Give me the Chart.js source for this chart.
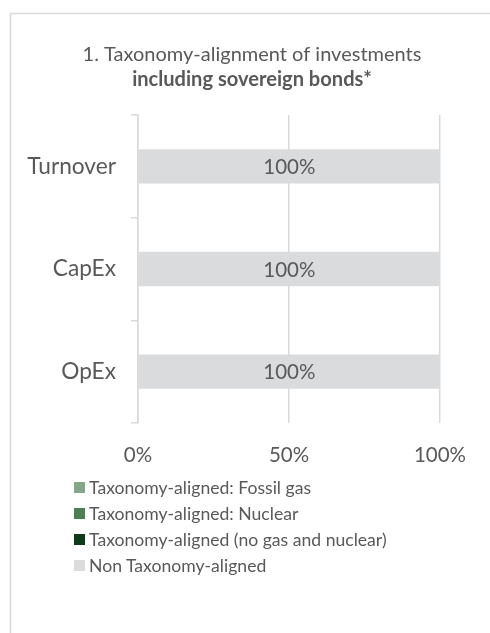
<!DOCTYPE html>
<html><head><meta charset="utf-8">
<script src="https://cdn.jsdelivr.net/npm/chart.js@4"></script>
<style>
html,body{margin:0;padding:0;background:#fff;}
#wrap{position:relative;width:490px;height:633px;overflow:hidden;}
.li{position:absolute;left:74px;height:20px;display:flex;align-items:center;white-space:nowrap;color:#595959;}
.li .bx{display:inline-block;width:11px;height:11px;margin-right:4px;flex:none;}
</style></head><body>
<div id="wrap"><canvas id="c" width="490" height="633"></canvas><div id="legend"></div></div>
<script>
// ---- data ----
const categories = ['Turnover', 'CapEx', 'OpEx'];
const seriesNames = [
  'Taxonomy-aligned: Fossil gas',
  'Taxonomy-aligned: Nuclear',
  'Taxonomy-aligned (no gas and nuclear)',
  'Non Taxonomy-aligned'
];
const fossilGas = [0, 0, 0];
const nuclear = [0, 0, 0];
const alignedOther = [0, 0, 0];
const nonAligned = [100, 100, 100];
const xTickValues = [0, 50, 100];
const titleLine1 = '1. Taxonomy-alignment of investments';
const titleLine2 = 'including sovereign bonds*';

// ---- styles ----
const seriesColors = ['#86A68A', '#4E7D57', '#103A1A', '#DADBDD'];
const FAMILY = 'Lato, "Open Sans", sans-serif';
const TEXT = '#595959';
const GRID = '#D9D9D9';

function fit(text, weight, target) {
  const c = document.createElement('canvas').getContext('2d');
  c.font = weight + ' 100px ' + FAMILY;
  return Math.round(1000 * target / c.measureText(text).width) / 10;
}
const sTick = fit('100%', 'normal', 52);
const sCat = fit('Turnover', 'normal', 89);
const sTitle = fit(titleLine1, 'normal', 339);
const sSub = fit(titleLine2, 'bold', 240);
const sLeg = fit(seriesNames[2], 'normal', 297);

const seriesData = [fossilGas, nuclear, alignedOther, nonAligned];

const framePlugin = {
  id: 'frame',
  beforeDraw(chart) {
    const ctx = chart.ctx;
    ctx.save();
    ctx.strokeStyle = GRID;
    ctx.lineWidth = 1.5;
    ctx.beginPath();
    ctx.moveTo(10.5, 640);
    ctx.lineTo(10.5, 13.5);
    ctx.lineTo(495, 13.5);
    ctx.stroke();
    ctx.restore();
  }
};

// Title block spans the chart frame (x 64..440), as in the reference.
const titleShiftPlugin = {
  id: 'titleShift',
  afterLayout(chart) {
    chart.boxes.forEach(b => {
      if (b.options && (b.options.text === titleLine1 || b.options.text === titleLine2)) {
        b.left = 64;
        b.right = 440;
        b.width = 376;
      }
    });
  }
};

const labelPlugin = {
  id: 'barLabels',
  afterDatasetsDraw(chart) {
    const ctx = chart.ctx;
    ctx.save();
    ctx.fillStyle = TEXT;
    ctx.font = 'normal ' + sTick + 'px ' + FAMILY;
    ctx.textAlign = 'center';
    ctx.textBaseline = 'middle';
    chart.data.datasets.forEach((ds, i) => {
      const meta = chart.getDatasetMeta(i);
      meta.data.forEach((bar, j) => {
        const v = ds.data[j];
        if (!v) return;
        ctx.fillText(v + '%', (bar.x + bar.base) / 2, bar.y + 1);
      });
    });
    ctx.restore();
  }
};

const titlePadTop = 55 - 0.6 * sTitle;
const subPadTop = Math.max(0, 79 - 55 - 0.6 * sTitle - 0.6 * sSub);
const subPadBottom = 115 - (55 + 0.6 * sTitle + subPadTop + 1.2 * sSub);

const chart = new Chart(document.getElementById('c'), {
  type: 'bar',
  data: {
    labels: categories,
    datasets: seriesNames.map((name, i) => ({
      label: name,
      data: seriesData[i],
      backgroundColor: seriesColors[i],
      borderWidth: 0,
      barPercentage: 0.335,
      categoryPercentage: 1
    }))
  },
  options: {
    indexAxis: 'y',
    responsive: false,
    animation: false,
    events: [],
    layout: { padding: { left: 10, right: 50, top: 0, bottom: 160 } },
    plugins: {
      legend: { display: false },
      tooltip: { enabled: false },
      title: {
        display: true, text: titleLine1, color: TEXT, fullSize: true,
        font: { family: FAMILY, size: sTitle, weight: 'normal', lineHeight: 1.2 },
        padding: { top: titlePadTop, bottom: 0 }
      },
      subtitle: {
        display: true, text: titleLine2, color: TEXT, fullSize: true,
        font: { family: FAMILY, size: sSub, weight: 'bold', lineHeight: 1.2 },
        padding: { top: subPadTop, bottom: subPadBottom }
      }
    },
    scales: {
      x: {
        stacked: true, min: 0, max: 100,
        afterBuildTicks(scale) { scale.ticks = xTickValues.map(v => ({ value: v })); },
        afterFit(scale) { scale.height = 50; },
        border: { display: false },
        grid: { color: GRID, lineWidth: 1.5, drawTicks: false },
        ticks: {
          color: TEXT, padding: 20,
          font: { family: FAMILY, size: sTick },
          callback: v => v + '%'
        }
      },
      y: {
        stacked: true,
        afterFit(scale) { scale.width = 128; },
        border: { display: true, color: GRID, width: 1.5 },
        grid: { drawOnChartArea: false, drawTicks: true, tickLength: 7, color: GRID, lineWidth: 1.5 },
        ticks: { color: TEXT, padding: 15, font: { family: FAMILY, size: sCat } }
      }
    }
  },
  plugins: [framePlugin, titleShiftPlugin, labelPlugin]
});

// HTML legend built from the chart datasets
const legend = document.getElementById('legend');
chart.data.datasets.forEach((ds, i) => {
  const row = document.createElement('div');
  row.className = 'li';
  row.style.top = (477.5 + i * 26) + 'px';
  row.style.font = 'normal ' + sLeg + 'px ' + FAMILY;
  const bx = document.createElement('span');
  bx.className = 'bx';
  bx.style.background = ds.backgroundColor;
  const tx = document.createElement('span');
  tx.textContent = ds.label;
  row.appendChild(bx);
  row.appendChild(tx);
  legend.appendChild(row);
});
</script>
</body></html>
